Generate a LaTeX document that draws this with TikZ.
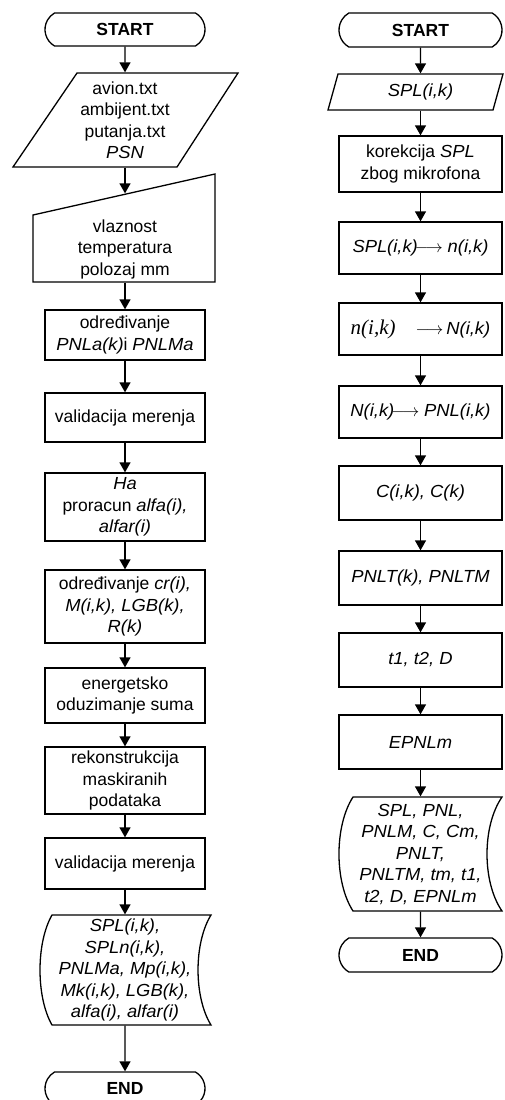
\documentclass[tikz,border=0pt]{standalone}
\usepackage{fontspec}
\setmainfont{Liberation Sans}[ItalicFeatures={FakeStretch=1.05}]
\newfontfamily\serifit{Liberation Serif}
\usetikzlibrary{arrows.meta,shapes.misc}

\tikzset{
  every node/.style={font=\fontsize{17.5}{21.5}\selectfont, align=center, inner sep=0pt},
  lbox/.style={draw, rectangle, minimum width=160pt, minimum height=#1},
  rbox/.style={draw, rectangle, minimum width=163pt, minimum height=#1},
  term/.style={draw, rounded rectangle, rounded rectangle arc length=120,
    minimum height=33pt, font=\fontsize{17.5}{21.5}\selectfont\bfseries},
  holder/.style={rectangle, minimum width=#1},
  flow/.style={-{Triangle[length=10pt,width=11pt]}}
}

\begin{document}
\begin{tikzpicture}[x=1pt, y=-1pt, line width=1.3pt, line join=miter]
\useasboundingbox (0,0) rectangle (504,1100);
\clip (0,0) rectangle (504,1100);
\fill[white] (0,0) rectangle (504,1100);

% ---------------- left flow: measurement processing ----------------
\node[term, minimum width=160pt] (s1) at (125,29.5) {START};

\node[holder=160pt, minimum height=94pt] (in1) at (125,120)
  {avion.txt\\ambijent.txt\\putanja.txt\\\textit{PSN}};
\draw[shift={(in1.center)}] (-48,-47) -- (113,-47) -- (52,47) -- (-112,47) -- cycle;

\node[holder=160pt, minimum height=88pt] (mi) at (125,238) {};
\node (mitext) at (125,249) {vlaznost\\temperatura\\polozaj mm};
\draw[shift={(mi.center)}] (-92,-23) -- (90,-64) -- (90,44) -- (-92,44) -- cycle;

\node[lbox=50pt] (p1) at (125,335) {određivanje\\\textit{PNLa(k)}i \textit{PNLMa}};
\node[lbox=49pt] (p2) at (125,417.5) {validacija merenja};
\node[lbox=68pt] (p3) at (125,507) {\textit{Ha}\\proracun \textit{alfa(i),}\\\textit{alfar(i)}};
\node[lbox=73pt] (p4) at (125,606.5) {određivanje \textit{cr(i),}\\\textit{M(i,k), LGB(k),}\\\textit{R(k)}};
\node[lbox=55pt] (p5) at (125,695.5) {energetsko\\oduzimanje suma};
\node[lbox=67pt] (p6) at (125,780.5) {rekonstrukcija\\maskiranih\\podataka};
\node[lbox=51pt] (p7) at (125,863.5) {validacija merenja};

\node[holder=160pt, minimum height=110pt] (o1) at (125,970)
  {\textit{SPL(i,k),}\\\textit{SPLn(i,k),}\\\textit{PNLMa, Mp(i,k),}\\\textit{Mk(i,k), LGB(k),}\\\textit{alfa(i), alfar(i)}};
\draw[shift={(o1.center)}] (-73,-55) -- (86,-55)
  .. controls (68.7,-27) and (68.7,27) .. (86,55) -- (-73,55)
  .. controls (-89,27) and (-89,-27) .. (-73,-55) -- cycle;

\node[term, minimum width=160pt] (e1) at (125,1088.5) {END};

\draw[flow] (s1) -- (in1);
\draw[flow] (in1) -- (mi);
\draw[flow] (mi) -- (p1);
\draw[flow] (p1) -- (p2);
\draw[flow] (p2) -- (p3);
\draw[flow] (p3) -- (p4);
\draw[flow] (p4) -- (p5);
\draw[flow] (p5) -- (p6);
\draw[flow] (p6) -- (p7);
\draw[flow] (p7) -- (o1);
\draw[flow] (o1) -- (e1);

% ---------------- right flow: noise level computation ----------------
\node[term, minimum width=163pt, minimum height=34pt] (s2) at (420.5,30) {START};

\node[holder=163pt, minimum height=36pt] (in2) at (420.5,92) {\textit{SPL(i,k)}};
\draw[shift={(in2.center)}] (-82.5,-18) -- (82.5,-18) -- (72.5,18) -- (-92.5,18) -- cycle;

\node[rbox=56pt] (r1) at (420.5,164) {korekcija \textit{SPL}\\zbog mikrofona};
\node[rbox=52pt] (r2) at (420.5,248) {\textit{SPL(i,k)}$\!\longrightarrow$ \textit{n(i,k)}};
\node[rbox=52pt] (r3) at (420.5,329) {{\serifit\itshape\fontsize{21}{24}\selectfont n(i,k)}\hspace{20pt}$\longrightarrow$\,\textit{N(i,k)}};
\node[rbox=52pt] (r4) at (420.5,412) {\textit{N(i,k)}$\!\longrightarrow$ \textit{PNL(i,k)}};
\node[rbox=54pt] (r5) at (420.5,493) {\textit{C(i,k), C(k)}};
\node[rbox=54pt] (r6) at (420.5,578) {\textit{PNLT(k), PNLTM}};
\node[rbox=54pt] (r7) at (420.5,660) {\textit{t1, t2, D}};
\node[rbox=54pt] (r8) at (420.5,742) {\textit{EPNLm}};

\node[holder=163pt, minimum height=114pt] (o2) at (420.5,854)
  {\textit{SPL, PNL,}\\\textit{PNLM, C, Cm,}\\\textit{PNLT,}\\\textit{PNLTM, tm, t1,}\\\textit{t2, D, EPNLm}};
\draw[shift={(o2.center)}] (-67.5,-57) -- (81.5,-57)
  .. controls (61.5,-28) and (61.5,28) .. (81.5,57) -- (-67.5,57)
  .. controls (-86.2,28) and (-86.2,-28) .. (-67.5,-57) -- cycle;

\node[term, minimum width=163pt, minimum height=34pt] (e2) at (420.5,955) {END};

\draw[flow] (s2) -- (in2);
\draw[flow] (in2) -- (r1);
\draw[flow] (r1) -- (r2);
\draw[flow] (r2) -- (r3);
\draw[flow] (r3) -- (r4);
\draw[flow] (r4) -- (r5);
\draw[flow] (r5) -- (r6);
\draw[flow] (r6) -- (r7);
\draw[flow] (r7) -- (r8);
\draw[flow] (r8) -- (o2);
\draw[flow] (o2) -- (e2);
\end{tikzpicture}
\end{document}
